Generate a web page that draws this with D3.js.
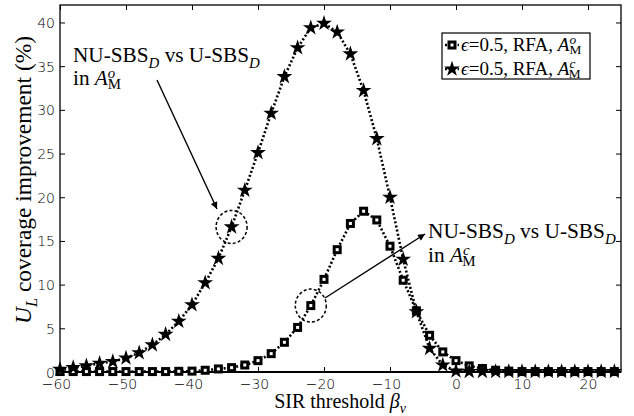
<!DOCTYPE html>
<html>
<head>
<meta charset="utf-8">
<script src="https://cdn.jsdelivr.net/npm/d3@7"></script>
<style>
  html, body { margin: 0; padding: 0; background: #fff; }
  svg { display: block; }
  text { white-space: pre; }
</style>
</head>
<body>
<svg id="chart" width="634" height="416"></svg>
<script>
// SIR threshold (dB) at which each coverage point was evaluated
const thresholds = [-60, -58, -56, -54, -52, -50, -48, -46, -44, -42, -40, -38, -36, -34, -32, -30,
  -28, -26, -24, -22, -20, -18, -16, -14, -12, -10, -8, -6, -4, -2, 0, 2, 4, 6, 8, 10, 12, 14, 16,
  18, 20, 22, 24];

// coverage improvement (%) of NU-SBS_D over U-SBS_D, eps = 0.5, RFA, region A_M^o
const gainOpen = [0.05, 0.05, 0.05, 0.05, 0.05, 0.05, 0.05, 0.05, 0.05, 0.08, 0.1, 0.2, 0.35, 0.5,
  0.8, 1.3, 2.1, 3.4, 5.1, 7.6, 10.6, 14.0, 17.0, 18.4, 17.4, 14.4, 10.5, 7.0, 4.2, 2.3, 1.3, 0.7,
  0.4, 0.2, 0.1, 0.05, 0.05, 0.05, 0.05, 0.05, 0.05, 0.05, 0.05];

// same comparison in region A_M^c
const gainClosed = [0.3, 0.5, 0.7, 1.0, 1.2, 1.6, 2.2, 3.1, 4.3, 5.8, 7.7, 10.2, 13.0, 16.6, 20.8,
  25.1, 29.6, 33.8, 37.1, 39.4, 39.9, 38.9, 36.4, 32.2, 26.7, 20.0, 12.9, 6.9, 2.7, 0.8, 0.1, 0.05,
  0.05, 0.05, 0.05, 0.05, 0.05, 0.05, 0.05, 0.05, 0.05, 0.05, 0.05];

const xTicks = [-60, -50, -40, -30, -20, -10, 0, 10, 20];
const yTicks = [0, 5, 10, 15, 20, 25, 30, 35, 40];
const legendRegions = ["o", "c"];

const svg = d3.select("#chart");
const frame = { left: 60, right: 621, top: 5, bottom: 372 };
const serif = "'Liberation Serif', 'Times New Roman', serif";
const sans = "'DejaVu Sans', sans-serif";

const x = d3.scaleLinear().domain([-60, 25]).range([frame.left, frame.right]);
const y = d3.scaleLinear().domain([0, 42]).range([frame.bottom, frame.top]);

const fmt = d => d < 0 ? "\u2212" + Math.abs(d) : String(d);

// ---- axes: ticks point inward on all four sides ----
const gx = svg.append("g").attr("transform", `translate(0,${frame.bottom})`)
  .call(d3.axisBottom(x).tickValues(xTicks).tickSizeInner(-5).tickSizeOuter(0).tickFormat(fmt));
gx.selectAll("text").attr("y", 17).attr("dy", null)
  .attr("dx", d => d < 0 ? "-0.29em" : null);

const gy = svg.append("g").attr("transform", `translate(${frame.left},0)`)
  .call(d3.axisLeft(y).tickValues(yTicks).tickSizeInner(-5).tickSizeOuter(0).tickFormat(fmt));
gy.selectAll("text").attr("x", -5).attr("dy", "0.36em");

svg.append("g").attr("transform", `translate(0,${frame.top})`)
  .call(d3.axisTop(x).tickValues(xTicks).tickSizeInner(-5).tickSizeOuter(0).tickFormat(""));
svg.append("g").attr("transform", `translate(${frame.right},0)`)
  .call(d3.axisRight(y).tickValues(yTicks).tickSizeInner(-5).tickSizeOuter(0).tickFormat(""));

svg.selectAll(".domain").remove();
svg.selectAll(".tick line").attr("stroke", "#000").attr("stroke-width", 1);
svg.selectAll(".tick text").attr("font-family", sans).attr("font-weight", 200)
  .attr("font-size", 14).attr("fill", "#000");

svg.append("rect")
  .attr("x", frame.left).attr("y", frame.top)
  .attr("width", frame.right - frame.left).attr("height", frame.bottom - frame.top)
  .attr("fill", "none").attr("stroke", "#000").attr("stroke-width", 1.3);
svg.append("line")
  .attr("x1", frame.left).attr("x2", frame.right)
  .attr("y1", frame.bottom).attr("y2", frame.bottom)
  .attr("stroke", "#000").attr("stroke-width", 2);

// ---- series ----
const seriesOpen = thresholds.map((t, i) => [t, gainOpen[i]]);
const seriesClosed = thresholds.map((t, i) => [t, gainClosed[i]]);
const line = d3.line().x(d => x(d[0])).y(d => y(d[1]));
const dotted = { stroke: "#000", width: 2.6, dash: "2,2.2" };

function drawLine(data) {
  svg.append("path").datum(data).attr("d", line)
    .attr("fill", "none").attr("stroke", dotted.stroke)
    .attr("stroke-width", dotted.width).attr("stroke-dasharray", dotted.dash);
}

function squareMarker(g) {
  g.append("rect").attr("x", -4.5).attr("y", -4.5).attr("width", 9).attr("height", 9).attr("fill", "#000");
  g.append("rect").attr("x", -1.5).attr("y", -1.5).attr("width", 3).attr("height", 3).attr("fill", "#fff");
}
const starPath = d3.symbol(d3.symbolStar, 78)();
function starMarker(g) {
  g.append("path").attr("d", starPath).attr("fill", "#000");
}

drawLine(seriesOpen);
drawLine(seriesClosed);

svg.append("g").selectAll("g").data(seriesOpen).join("g")
  .attr("transform", d => `translate(${x(d[0])},${y(d[1])})`)
  .each(function () { squareMarker(d3.select(this)); });
svg.append("g").selectAll("g").data(seriesClosed).join("g")
  .attr("transform", d => `translate(${x(d[0])},${y(d[1])})`)
  .each(function () { starMarker(d3.select(this)); });

// ---- text helpers ----
function fitWidth(sel, target) {
  const w = sel.node().getComputedTextLength();
  const fs = parseFloat(sel.attr("font-size"));
  const size = fs * target / w;
  sel.attr("font-size", size);
  return size;
}
function addSubD(t) {
  t.append("tspan").attr("font-style", "italic").attr("font-size", "0.7em").attr("dy", "0.43em").text("D");
}
function comparisonLine(px, py) {
  const t = svg.append("text").attr("x", px).attr("y", py)
    .attr("font-family", serif).attr("font-size", 20).attr("fill", "#000");
  t.append("tspan").text("NU-SBS");
  addSubD(t);
  t.append("tspan").attr("dy", "-0.3em").text(" vs U-SBS");
  addSubD(t);
  return t;
}
function regionSymbol(t, sup) {
  t.append("tspan").attr("font-style", "italic").text("A");
  t.append("tspan").attr("font-style", "italic").attr("font-size", "0.7em").attr("dy", "-0.5em").text(sup);
  t.append("tspan").attr("font-size", "0.7em").attr("dx", "-0.5em").attr("dy", "0.79em").text("M");
}
function regionLine(px, py, sup, size) {
  const t = svg.append("text").attr("x", px).attr("y", py)
    .attr("font-family", serif).attr("font-size", size).attr("fill", "#000");
  t.append("tspan").text("in ");
  regionSymbol(t, sup);
  return t;
}

// ---- annotations ----
const arrowDefs = svg.append("defs");
arrowDefs.append("marker").attr("id", "head").attr("viewBox", "0 0 10 10")
  .attr("refX", 10).attr("refY", 5).attr("markerWidth", 9).attr("markerHeight", 7)
  .attr("markerUnits", "userSpaceOnUse").attr("orient", "auto")
  .append("path").attr("d", "M0,0L10,5L0,10Z").attr("fill", "#000");

const circled = [
  { t: -34, v: gainClosed[thresholds.indexOf(-34)] },
  { t: -22, v: gainOpen[thresholds.indexOf(-22)] }
];
svg.append("g").selectAll("ellipse").data(circled).join("ellipse")
  .attr("cx", d => x(d.t)).attr("cy", d => y(d.v))
  .attr("rx", 15.5).attr("ry", 16.5)
  .attr("fill", "none").attr("stroke", "#000").attr("stroke-width", 1.5)
  .attr("stroke-dasharray", "3,2.2");

const arrows = [
  { x1: 157, y1: 80, x2: 217, y2: 209 },
  { x1: 325, y1: 298, x2: 425, y2: 234 }
];
svg.append("g").selectAll("line").data(arrows).join("line")
  .attr("x1", d => d.x1).attr("y1", d => d.y1).attr("x2", d => d.x2).attr("y2", d => d.y2)
  .attr("stroke", "#000").attr("stroke-width", 1.4).attr("marker-end", "url(#head)");

const a1 = comparisonLine(73, 62);
const s1 = fitWidth(a1, 187);
regionLine(73, 85, "o", s1);

const a2 = comparisonLine(428, 238);
const s2 = fitWidth(a2, 188);
regionLine(428, 262, "c", s2);

// ---- legend ----
const legend = svg.append("g");
legend.append("rect").attr("x", 442).attr("y", 33).attr("width", 148).attr("height", 46)
  .attr("fill", "#fff").attr("stroke", "#000").attr("stroke-width", 1.2);
const rowY = [45, 69];
const markers = [squareMarker, starMarker];
let legendSize = 18;
legendRegions.forEach((r, i) => {
  legend.append("line").attr("x1", 445).attr("x2", 459).attr("y1", rowY[i]).attr("y2", rowY[i])
    .attr("stroke", "#000").attr("stroke-width", dotted.width).attr("stroke-dasharray", dotted.dash);
  markers[i](legend.append("g").attr("transform", `translate(452,${rowY[i]})`));
  const t = legend.append("text").attr("x", 461).attr("y", rowY[i] + 5.5)
    .attr("font-family", serif).attr("font-size", legendSize).attr("fill", "#000");
  t.append("tspan").attr("font-style", "italic").text("\u03F5");
  t.append("tspan").text("=0.5, RFA, ");
  regionSymbol(t, r);
  if (i === 0) legendSize = fitWidth(t, 127);
  else t.attr("font-size", legendSize);
});

// ---- axis titles ----
const xt = svg.append("text").attr("x", 340).attr("y", 408).attr("text-anchor", "middle")
  .attr("font-family", serif).attr("font-size", 20).attr("fill", "#000");
xt.append("tspan").text("SIR threshold ");
xt.append("tspan").attr("font-style", "italic").text("\u03B2");
xt.append("tspan").attr("font-style", "italic").attr("font-size", "0.7em").attr("dy", "0.35em").text("\u03BD");

const yt = svg.append("text").attr("transform", "translate(31,180) rotate(-90)")
  .attr("text-anchor", "middle")
  .attr("font-family", serif).attr("font-size", 20).attr("fill", "#000");
yt.append("tspan").attr("font-style", "italic").text("U");
yt.append("tspan").attr("font-style", "italic").attr("font-size", "0.7em").attr("dy", "0.35em").text("L");
yt.append("tspan").attr("dy", "-0.245em").text(" coverage improvement (%)");
fitWidth(yt, 288);
</script>
</body>
</html>
